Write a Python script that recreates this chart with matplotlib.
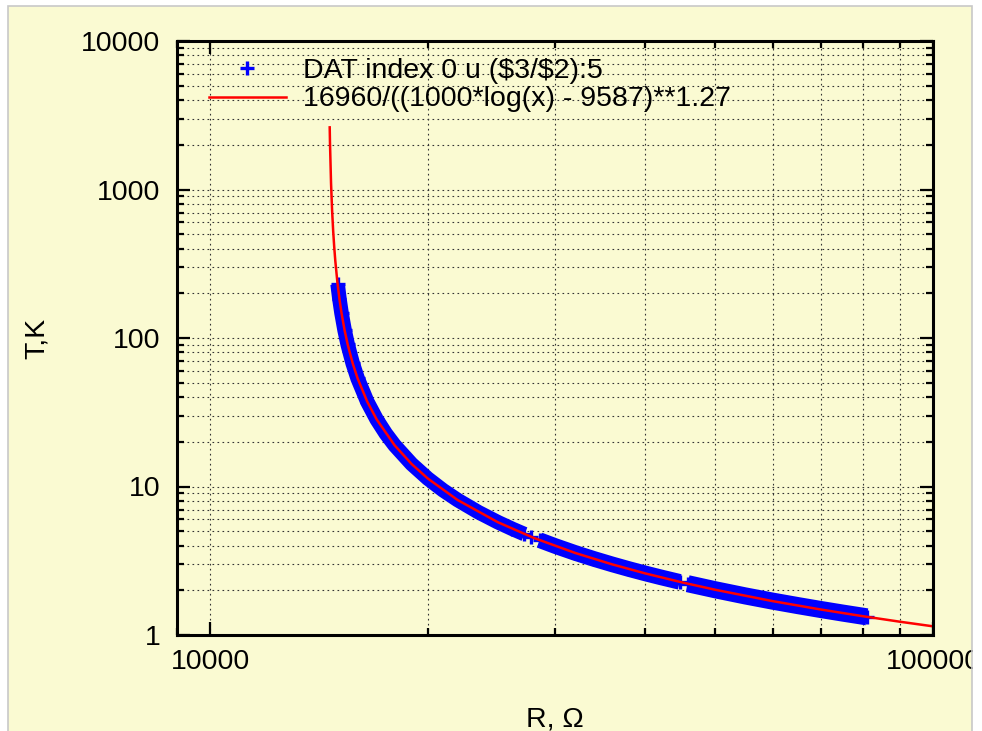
import numpy as np
import matplotlib.pyplot as plt
from matplotlib import ticker
from matplotlib.patches import Rectangle

# measured points, three runs plus one stray point (R in Ohm, T in K)
r_run1 = [15010, 15100, 15200, 15350, 15500, 15750, 16000, 16500, 17000, 17500,
          18000, 19000, 20000, 21000, 22000, 23500, 25000, 26200, 27220]
t_run1 = [230.8, 182.6, 147.0, 112.6, 90.5, 67.5, 53.4, 37.2, 28.29, 22.72,
          18.94, 14.18, 11.33, 9.44, 8.11, 6.717, 5.753, 5.177, 4.779]
r_single = [27750]
t_single = [4.599]
r_run2 = [28560, 30000, 32000, 34000, 36000, 38000, 40000, 42000, 44630]
t_run2 = [4.351, 3.978, 3.567, 3.247, 2.989, 2.776, 2.598, 2.447, 2.280]
r_run3 = [45780, 50000, 55000, 60000, 65000, 70000, 75000, 81020]
t_run3 = [2.216, 2.016, 1.833, 1.691, 1.578, 1.484, 1.405, 1.325]

# fitted curve
r_fit = [14638, 14650, 14700, 14750, 14800, 14850, 14900, 15000, 15100, 15200,
         15350, 15500, 15750, 16000, 16500, 17000, 18000, 19000, 20000, 22000,
         25000, 28000, 32000, 36000, 40000, 45000, 50000, 60000, 70000, 80000,
         90000, 100000]
t_fit = [2621, 2092, 1103, 722.6, 527, 409.8, 332, 237.6, 182.6, 147.0,
         112.6, 90.5, 67.5, 53.4, 37.2, 28.29, 18.94, 14.18, 11.33, 8.11,
         5.753, 4.518, 3.567, 2.989, 2.598, 2.259, 2.016, 1.691, 1.484, 1.338,
         1.2286, 1.144]

data_label = r'DAT index 0 u (\$3/\$2):5'
fit_label = '16960/((1000*log(x) - 9587)**1.27'

bg = '#fafad2'
blue = '#0000ff'
red = '#ff0000'
fs = 20.5

plt.rcParams['font.family'] = ['Liberation Sans', 'DejaVu Sans']

fig = plt.figure(figsize=(9.82, 7.31), dpi=100)
fig.patch.set_facecolor('white')

# window-like yellow panel with a thin grey edge
W, H = 982.0, 731.0
fig.add_artist(Rectangle((8 / W, 0), (972 - 8) / W, (731 - 6) / H,
                         transform=fig.transFigure, fc=bg, ec='none', zorder=-5))
fig.add_artist(Rectangle((973 / W, 0), 1, 1, transform=fig.transFigure,
                         fc='white', ec='none', zorder=10))
fig.add_artist(Rectangle((8 / W, -0.01), (972 - 8) / W, (731 - 6) / H + 0.01,
                         transform=fig.transFigure, fc='none', ec='#c8c8c8',
                         lw=1.2, zorder=11))

ax = fig.add_axes([177 / W, 1 - 635 / H, (933 - 177) / W, (635 - 41) / H])
ax.set_facecolor(bg)
ax.set_xscale('log')
ax.set_yscale('log')
ax.set_xlim(9000, 100000)
ax.set_ylim(1, 10000)

# thick blue band made of the measured points (scatter grows at low T)
for rr, tt, w in [(r_run1, t_run1, 10.5), (r_run2, t_run2, 11.3), (r_run3, t_run3, 12.3)]:
    ax.plot(rr, tt, '-', color=blue, lw=w, solid_capstyle='butt', zorder=3)
ax.plot(r_run1 + r_single + r_run2 + r_run3, t_run1 + t_single + t_run2 + t_run3,
        '+', color=blue, ms=10, mew=2.4, ls='none', label=data_label, zorder=3)
ax.plot(r_fit, t_fit, '-', color=red, lw=1.8, label=fit_label, zorder=4)

# ticks and grid
ax.xaxis.set_major_locator(ticker.LogLocator(base=10))
ax.xaxis.set_minor_locator(ticker.LogLocator(base=10, subs=np.arange(2, 10)))
ax.yaxis.set_major_locator(ticker.LogLocator(base=10))
ax.yaxis.set_minor_locator(ticker.LogLocator(base=10, subs=np.arange(2, 10)))
ax.xaxis.set_major_formatter(ticker.FuncFormatter(lambda v, p: '%d' % round(v)))
ax.yaxis.set_major_formatter(ticker.FuncFormatter(lambda v, p: '%d' % round(v)))
ax.xaxis.set_minor_formatter(ticker.NullFormatter())
ax.yaxis.set_minor_formatter(ticker.NullFormatter())

ax.tick_params(which='both', direction='in', top=True, right=True,
               colors='black', labelsize=fs)
ax.tick_params(which='major', length=9.5, width=1.6)
ax.tick_params(which='minor', length=5, width=1.6)
ax.tick_params(axis='y', which='major', pad=12)
ax.tick_params(axis='x', which='major', pad=10)

ax.grid(which='both', color='#333333', lw=0.8, ls=(0, (1.5, 3)))
ax.set_axisbelow(True)

for sp in ax.spines.values():
    sp.set_linewidth(2.2)
    sp.set_zorder(6)

ax.set_xlabel('R, Ω', fontsize=fs)
ax.set_ylabel('T,K', fontsize=fs)
ax.xaxis.set_label_coords(0.5, -0.12)
ax.yaxis.set_label_coords(-0.168, 0.5)

ax.legend(loc='upper left', bbox_to_anchor=(0.042, 0.972), frameon=False,
          fontsize=fs, handlelength=2.7, handletextpad=0.6, labelspacing=0.1,
          borderpad=0, borderaxespad=0, numpoints=1)

fig.savefig('out.png', dpi=100, facecolor=fig.get_facecolor())
